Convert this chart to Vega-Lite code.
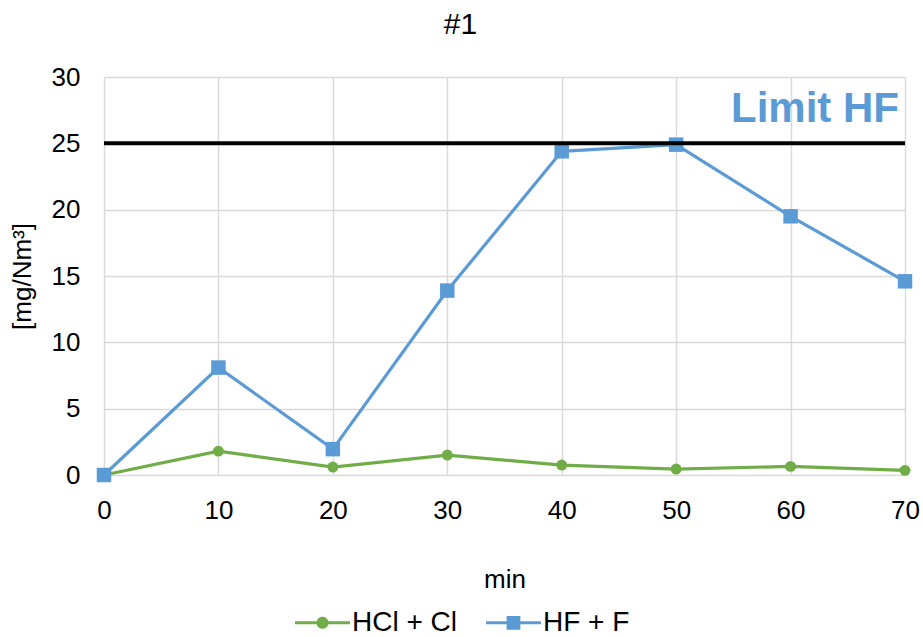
{
  "$schema": "https://vega.github.io/schema/vega-lite/v6.json",
  "autosize": "none",
  "width": 801,
  "height": 398,
  "padding": {"left": 104, "top": 77, "right": 18, "bottom": 162},
  "background": "white",
  "config": {
    "font": "Liberation Sans",
    "view": {"stroke": null},
    "title": {"fontSize": 30, "fontWeight": "normal", "font": "Liberation Sans", "color": "#000"},
    "axis": {"labelFont": "Liberation Sans", "titleFont": "Liberation Sans", "labelColor": "#000", "titleColor": "#000", "labelFontSize": 26, "titleFontSize": 26, "titleFontWeight": "normal", "gridColor": "#d9d9d9", "gridWidth": 1.5, "domain": false, "ticks": false, "labelFlush": false}
  },
  "title": {"text": "#1", "fontSize": 30, "fontWeight": "normal", "offset": 24, "dx": -44},
  "data": {
    "values": [
      {"min": 0, "value": 0, "series": "HCl + Cl"},
      {"min": 10, "value": 1.8, "series": "HCl + Cl"},
      {"min": 20, "value": 0.6, "series": "HCl + Cl"},
      {"min": 30, "value": 1.5, "series": "HCl + Cl"},
      {"min": 40, "value": 0.75, "series": "HCl + Cl"},
      {"min": 50, "value": 0.45, "series": "HCl + Cl"},
      {"min": 60, "value": 0.65, "series": "HCl + Cl"},
      {"min": 70, "value": 0.35, "series": "HCl + Cl"},
      {"min": 0, "value": 0, "series": "HF + F"},
      {"min": 10, "value": 8.1, "series": "HF + F"},
      {"min": 20, "value": 1.95, "series": "HF + F"},
      {"min": 30, "value": 13.9, "series": "HF + F"},
      {"min": 40, "value": 24.4, "series": "HF + F"},
      {"min": 50, "value": 24.9, "series": "HF + F"},
      {"min": 60, "value": 19.5, "series": "HF + F"},
      {"min": 70, "value": 14.6, "series": "HF + F"}
    ]
  },
  "layer": [
    {
      "mark": {"type": "line", "strokeWidth": 3.2},
      "encoding": {
        "x": {"field": "min", "type": "quantitative", "scale": {"domain": [0, 70], "nice": false}, "axis": {"values": [0,10,20,30,40,50,60,70], "title": "min", "labelPadding": 22, "titlePadding": 43}},
        "y": {"field": "value", "type": "quantitative", "scale": {"domain": [0, 30], "nice": false}, "axis": {"values": [0,5,10,15,20,25,30], "title": "[mg/Nm³]", "labelPadding": 24, "titlePadding": 16}},
        "color": {"field": "series", "type": "nominal", "scale": {"domain": ["HCl + Cl", "HF + F"], "range": ["#70AD47", "#5B9BD5"]},
          "legend": {"title": null, "orient": "none", "legendX": 191, "legendY": 518, "direction": "horizontal", "labelFontSize": 28, "labelFont": "Liberation Sans", "labelColor": "#000", "symbolSize": 3025, "labelOffset": 2, "columnPadding": 28,
            "encode": {"symbols": {"update": {"shape": {"signal": "datum.value == 'HCl + Cl' ? 'M-1,-0.055 L1,-0.055 L1,0.055 L-1,0.055 Z M0.22,0 A0.22,0.22 0 1,1 -0.22,0 A0.22,0.22 0 1,1 0.22,0 Z' : 'M-1,-0.055 L1,-0.055 L1,0.055 L-1,0.055 Z M-0.25,-0.25 L0.25,-0.25 L0.25,0.25 L-0.25,0.25 Z'"}, "fill": {"scale": "color", "field": "value"}, "stroke": {"value": "transparent"}, "strokeWidth": {"value": 0}, "opacity": {"value": 1}}}}}}
      }
    },
    {
      "transform": [{"filter": "datum.series == 'HCl + Cl'"}],
      "mark": {"type": "point", "filled": true, "opacity": 1, "shape": "circle", "size": 120},
      "encoding": {
        "x": {"field": "min", "type": "quantitative"},
        "y": {"field": "value", "type": "quantitative"},
        "color": {"field": "series", "type": "nominal"}
      }
    },
    {
      "transform": [{"filter": "datum.series == 'HF + F'"}],
      "mark": {"type": "point", "filled": true, "opacity": 1, "shape": "square", "size": 210},
      "encoding": {
        "x": {"field": "min", "type": "quantitative"},
        "y": {"field": "value", "type": "quantitative"},
        "color": {"field": "series", "type": "nominal"}
      }
    },
    {
      "data": {"values": [{"limit": 25}]},
      "mark": {"type": "rule", "color": "#000", "strokeWidth": 4},
      "encoding": {"y": {"field": "limit", "type": "quantitative"}}
    },
    {
      "data": {"values": [{"min": 70, "value": 27.6, "label": "Limit HF"}]},
      "mark": {"type": "text", "align": "right", "baseline": "middle", "fontSize": 42, "fontWeight": "bold", "font": "Liberation Sans", "color": "#5B9BD5", "dx": -6},
      "encoding": {"x": {"field": "min", "type": "quantitative"}, "y": {"field": "value", "type": "quantitative"}, "text": {"field": "label"}}
    }
  ]
}
